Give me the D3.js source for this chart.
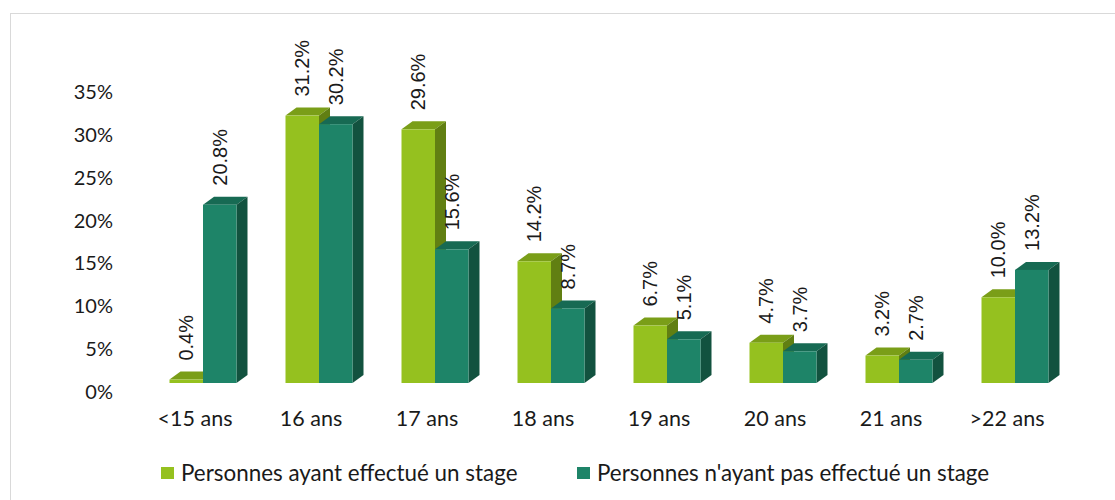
<!DOCTYPE html>
<html>
<head>
<meta charset="utf-8">
<script src="https://cdn.jsdelivr.net/npm/d3@7"></script>
<style>
  body { margin: 0; background: #fff; }
  svg text { fill: #1a1a1a; }
</style>
</head>
<body>
<svg width="1115" height="500"></svg>
<script>
// data
const categories = ["<15 ans", "16 ans", "17 ans", "18 ans", "19 ans", "20 ans", "21 ans", ">22 ans"];
const seriesNames = ["Personnes ayant effectué un stage", "Personnes n'ayant pas effectué un stage"];
const avecStage = [0.4, 31.2, 29.6, 14.2, 6.7, 4.7, 3.2, 10.0];
const sansStage = [20.8, 30.2, 15.6, 8.7, 5.1, 3.7, 2.7, 13.2];
const yTicks = [0, 5, 10, 15, 20, 25, 30, 35];

const colors = [
  { front: "#95c11f", top: "#7a9e18", side: "#617f12" },
  { front: "#1e8468", top: "#176a53", side: "#12523f" }
];

const depth = { dx: 11, dy: 8 };
const font = "Lato, 'Open Sans', sans-serif";

const svg = d3.select("svg");

// light frame round the chart
svg.append("rect")
  .attr("x", 10.5).attr("y", 13.5)
  .attr("width", 1120).attr("height", 500)
  .attr("fill", "none")
  .attr("stroke", "#d9d9d9");

const x0 = d3.scaleBand()
  .domain(categories)
  .range([145, 1073]);

const x1 = d3.scaleBand()
  .domain([0, 1])
  .range([0, 67]);

const y = d3.scaleLinear()
  .domain([0, 35])
  .range([383, 383 - 35 * 8.57]);

// y axis, labels only
const yAxis = svg.append("g")
  .attr("transform", "translate(113, 9)")
  .call(d3.axisLeft(y).tickValues(yTicks).tickFormat(d => d + "%").tickSize(0).tickPadding(0));
yAxis.select(".domain").remove();
yAxis.selectAll("text")
  .style("font-family", font)
  .style("font-size", "20px")
  .attr("fill", "#1a1a1a");

// x axis labels
const xAxis = svg.append("g")
  .attr("transform", "translate(-8, 411)")
  .call(d3.axisBottom(x0).tickSize(0).tickPadding(0));
xAxis.select(".domain").remove();
xAxis.selectAll("text")
  .style("font-family", font)
  .style("font-size", "21.5px")
  .attr("fill", "#1a1a1a");

const rows = categories.map((c, i) => ({ cat: c, values: [avecStage[i], sansStage[i]] }));
const off = (x0.bandwidth() - 67) / 2;

const groups = svg.append("g").selectAll("g")
  .data(rows)
  .join("g")
  .attr("transform", d => `translate(${x0(d.cat) + off},0)`);

[0, 1].forEach(s => {
  const bar = groups.append("g");
  const w = x1.bandwidth();
  const xl = x1(s);
  // top face
  bar.append("path")
    .attr("d", d => {
      const t = y(d.values[s]);
      return `M${xl},${t}L${xl + depth.dx},${t - depth.dy}L${xl + w + depth.dx},${t - depth.dy}L${xl + w},${t}Z`;
    })
    .attr("fill", colors[s].top);
  // side face
  bar.append("path")
    .attr("d", d => {
      const t = y(d.values[s]);
      const b = y(0);
      return `M${xl + w},${t}L${xl + w + depth.dx},${t - depth.dy}L${xl + w + depth.dx},${b - depth.dy}L${xl + w},${b}Z`;
    })
    .attr("fill", colors[s].side);
  // front face
  bar.append("rect")
    .attr("x", xl)
    .attr("y", d => y(d.values[s]))
    .attr("width", w)
    .attr("height", d => y(0) - y(d.values[s]))
    .attr("fill", colors[s].front);
});

// value labels, rotated
[0, 1].forEach(s => {
  groups.append("text")
    .attr("transform", d => `translate(${x1(s) + x1.bandwidth() / 2 + 7},${y(d.values[s]) - 19}) rotate(-90)`)
    .style("font-family", "'Liberation Sans', Arial, sans-serif")
    .style("font-size", "20px")
    .text(d => d.values[s].toFixed(1) + "%");
});

// legend
const legend = svg.append("g").attr("transform", "translate(0, 473)");
const legendX = [161, 577];
seriesNames.forEach((name, i) => {
  legend.append("rect")
    .attr("x", legendX[i]).attr("y", -6)
    .attr("width", 13).attr("height", 12)
    .attr("fill", colors[i].front);
  legend.append("text")
    .attr("x", legendX[i] + 20).attr("y", 0)
    .attr("dy", "0.35em")
    .style("font-family", font)
    .style("font-size", "22.4px")
    .text(name);
});
</script>
</body>
</html>
